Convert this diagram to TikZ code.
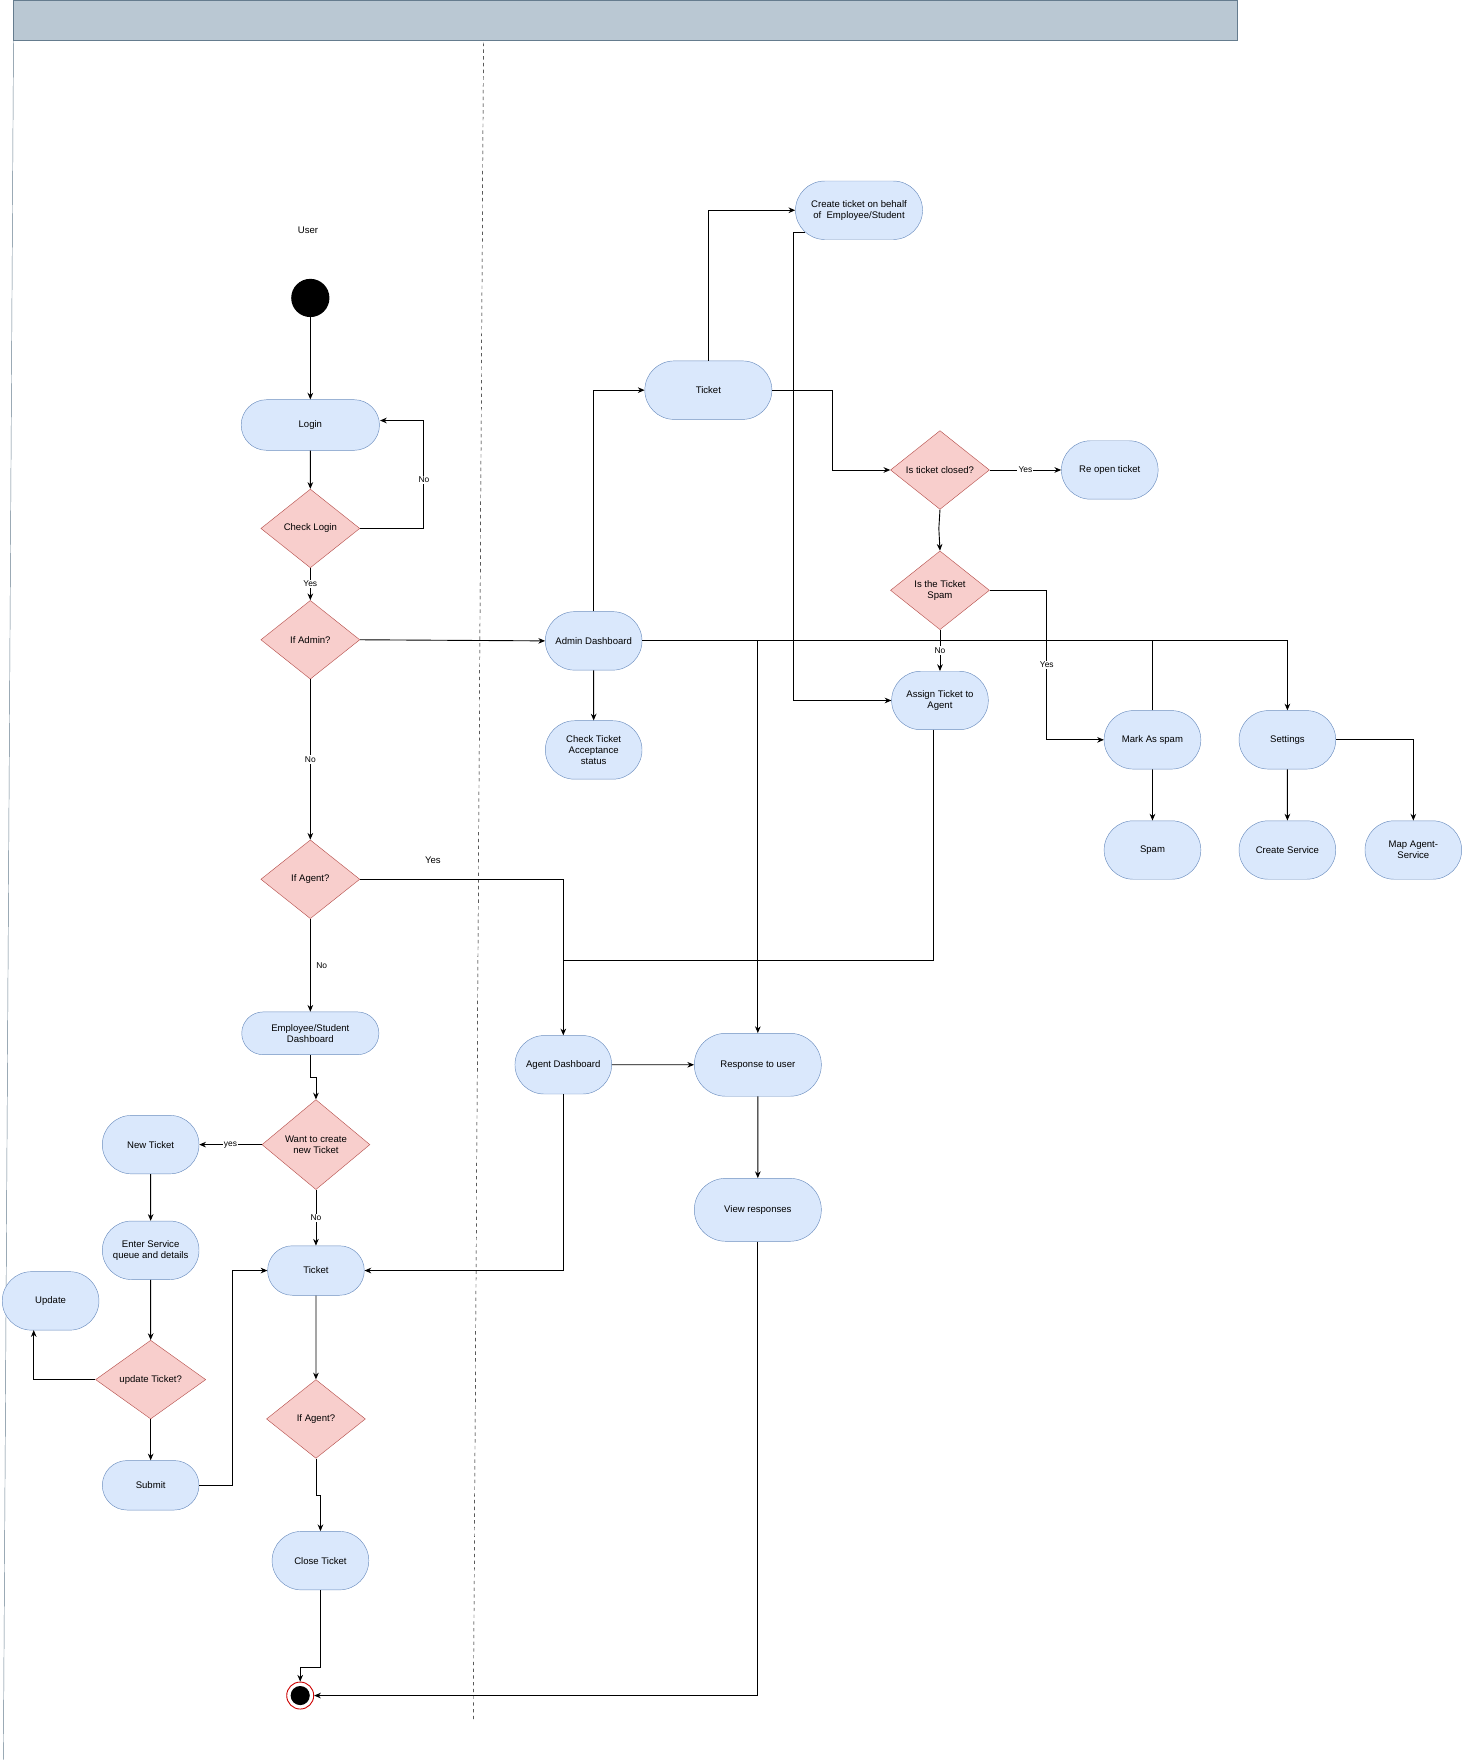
\documentclass[tikz,border=0pt]{standalone}
\usepackage{fontspec}
\setmainfont{Liberation Sans}
\usetikzlibrary{shapes.geometric,shapes.misc,calc,arrows.meta}
\definecolor{bl}{HTML}{DAE8FC}\definecolor{blb}{HTML}{6C8EBF}
\definecolor{rd}{HTML}{F8CECC}\definecolor{rdb}{HTML}{B85450}
\definecolor{hd}{HTML}{BAC8D3}\definecolor{hdb}{HTML}{23445D}
\begin{document}
\begin{tikzpicture}[x=1pt,y=-1pt,font=\fontsize{8.5}{10}\selectfont,
 term/.style={rounded rectangle,draw=blb,fill=bl,minimum width=88pt,minimum height=52pt,align=center,inner sep=1pt},
 dec/.style={diamond,draw=rdb,fill=rd,minimum width=88pt,minimum height=70pt,align=center,inner sep=0pt,aspect=1.3},
 ar/.style={-{Stealth[length=6pt,width=5pt]},thick,black},
 ln/.style={thick,black},
 lab/.style={fill=white,inner sep=1pt,font=\fontsize{7.5}{9}\selectfont}]
\useasboundingbox (0,0) rectangle (1302,1568);
\draw[draw=hdb!70,fill=hd] (12,0) rectangle (1100,36);
\draw[hdb!70] (12,36) -- (3,1565);
\draw[dashed] (430,38) -- (421,1530);
\node (user) at (274,205) {User};
\node[circle,fill=black,minimum size=34pt,inner sep=0] (start) at (276,265) {};
\node[term,minimum width=125pt,minimum height=45pt] (login) at (276,378) {Login};
\node[dec] (chk) at (276,470) {Check Login};
\node[dec] (adm) at (276,569) {If Admin?};
\node[dec] (ag1) at (276,782) {If Agent?};
\node[term,minimum width=124pt,minimum height=38pt] (emp) at (276,919) {Employee/Student\\Dashboard};
\node[dec,minimum width=96pt,minimum height=80pt] (want) at (281,1018) {Want to create\\new Ticket};
\node[term] (new) at (134,1018) {New Ticket};
\node[term] (enter) at (134,1112) {Enter Service\\queue and details};
\node[term] (upd) at (45,1157) {Update};
\node[dec,minimum width=98pt] (updq) at (134,1227) {update Ticket?};
\node[term,minimum height=44pt] (sub) at (134,1321) {Submit};
\node[term,minimum height=44pt] (tk) at (281,1130) {Ticket};
\node[dec] (ag2) at (281,1262) {If Agent?};
\node[term] (close) at (285,1388) {Close Ticket};
\node[circle,draw=red!80!black,thick,minimum size=24pt,inner sep=0] (end) at (267,1508) {};
\fill (end) circle (8.5pt);
\node[term] (admd) at (528,570) {Admin Dashboard};
\node[term] (acc) at (528,667) {Check Ticket\\Acceptance\\status};
\node[term,minimum width=115pt] (tkt) at (630,347) {Ticket};
\node[term,minimum width=115pt] (cr) at (764,187) {Create ticket on behalf\\of \ Employee/Student};
\node[dec] (closed) at (836,418) {Is ticket closed?};
\node[term] (reopen) at (987,418) {Re open ticket};
\node[dec] (spamq) at (836,525) {Is the Ticket\\Spam};
\node[term] (assign) at (836,623) {Assign Ticket to\\Agent};
\node[term] (mark) at (1025,658) {Mark As spam};
\node[term] (spam) at (1025,756) {Spam};
\node[term] (set) at (1145,658) {Settings};
\node[term] (cs) at (1145,756) {Create Service};
\node[term] (map) at (1257,756) {Map Agent-\\Service};
\node[term] (agd) at (501,947) {Agent Dashboard};
\node[term,minimum width=115pt,minimum height=56pt] (resp) at (674,947) {Response to user};
\node[term,minimum width=115pt,minimum height=56pt] (view) at (674,1076) {View responses};
\draw[ar] (start) -- (login);
\draw[ar] (login) -- (chk);
\draw[ar] (chk.east) -- (377,470) -- node[lab,pos=0.45]{No} (377,374) -- (338,374);
\draw[ar] (chk) -- node[lab]{Yes} (adm);
\draw[ar] (adm) -- node[lab]{No} (ag1);
\draw[ar] (adm.east) -- (admd.west);
\draw[ar] (ag1.east) -| (agd.north);
\node at (385,765) {Yes};
\draw[ar] (ag1) -- node[lab,right=4pt]{No} (emp);
\draw[ar] (emp.south) -- (276,958) -- (281,958) -- (want.north);
\draw[ar] (want.west) -- node[lab]{yes} (new.east);
\draw[ar] (want.south) -- node[lab]{No} (tk.north);
\draw[ar] (new) -- (enter);
\draw[ar] (enter) -- (updq);
\draw[ar] (updq) -- (sub);
\draw[ar] (updq.west) -| (30,1183);
\draw[ar] (sub.east) -- (207,1321) |- (tk.west);
\draw[ar] (tk) -- (ag2);
\draw[ar] (ag2.south) -- (281,1330) -- (285,1330) -- (close.north);
\draw[ar] (close.south) -- (285,1483) -| (end.north);
\draw[ar] (view.south) |- (end.east);
\draw[ar] (admd.north) |- (tkt.west);
\draw[ar] (admd) -- (acc);
\draw[ar] (tkt.north) |- (cr.west);
\draw[ar] (716,207) -- (706,207) |- (assign.west);
\draw[ar] (tkt.east) -- (740,347) |- (closed.west);
\draw[ar] (closed.east) -- node[lab]{Yes} (reopen.west);
\draw[ar] (closed.south) -- (835,470) -- (spamq.north);
\draw[ar] (spamq) -- node[lab]{No} (assign);
\draw[ar] (spamq.east) -- (931,525) -- node[lab]{Yes} (931,658) -- (mark.west);
\draw[ar] (admd.east) -| (set.north);
\draw[ar] (674,570) -- (resp.north);
\draw[ln] (mark.north) -- (1025,570);
\draw[ar] (mark) -- (spam);
\draw[ar] (set) -- (cs);
\draw[ar] (set.east) -| (map.north);
\draw[ln] (830,649) -- (830,854) -- (501,854);
\draw[ar] (agd) -- (resp);
\draw[ar] (agd.south) |- (tk.east);
\draw[ar] (resp) -- (view);
\end{tikzpicture}
\end{document}
